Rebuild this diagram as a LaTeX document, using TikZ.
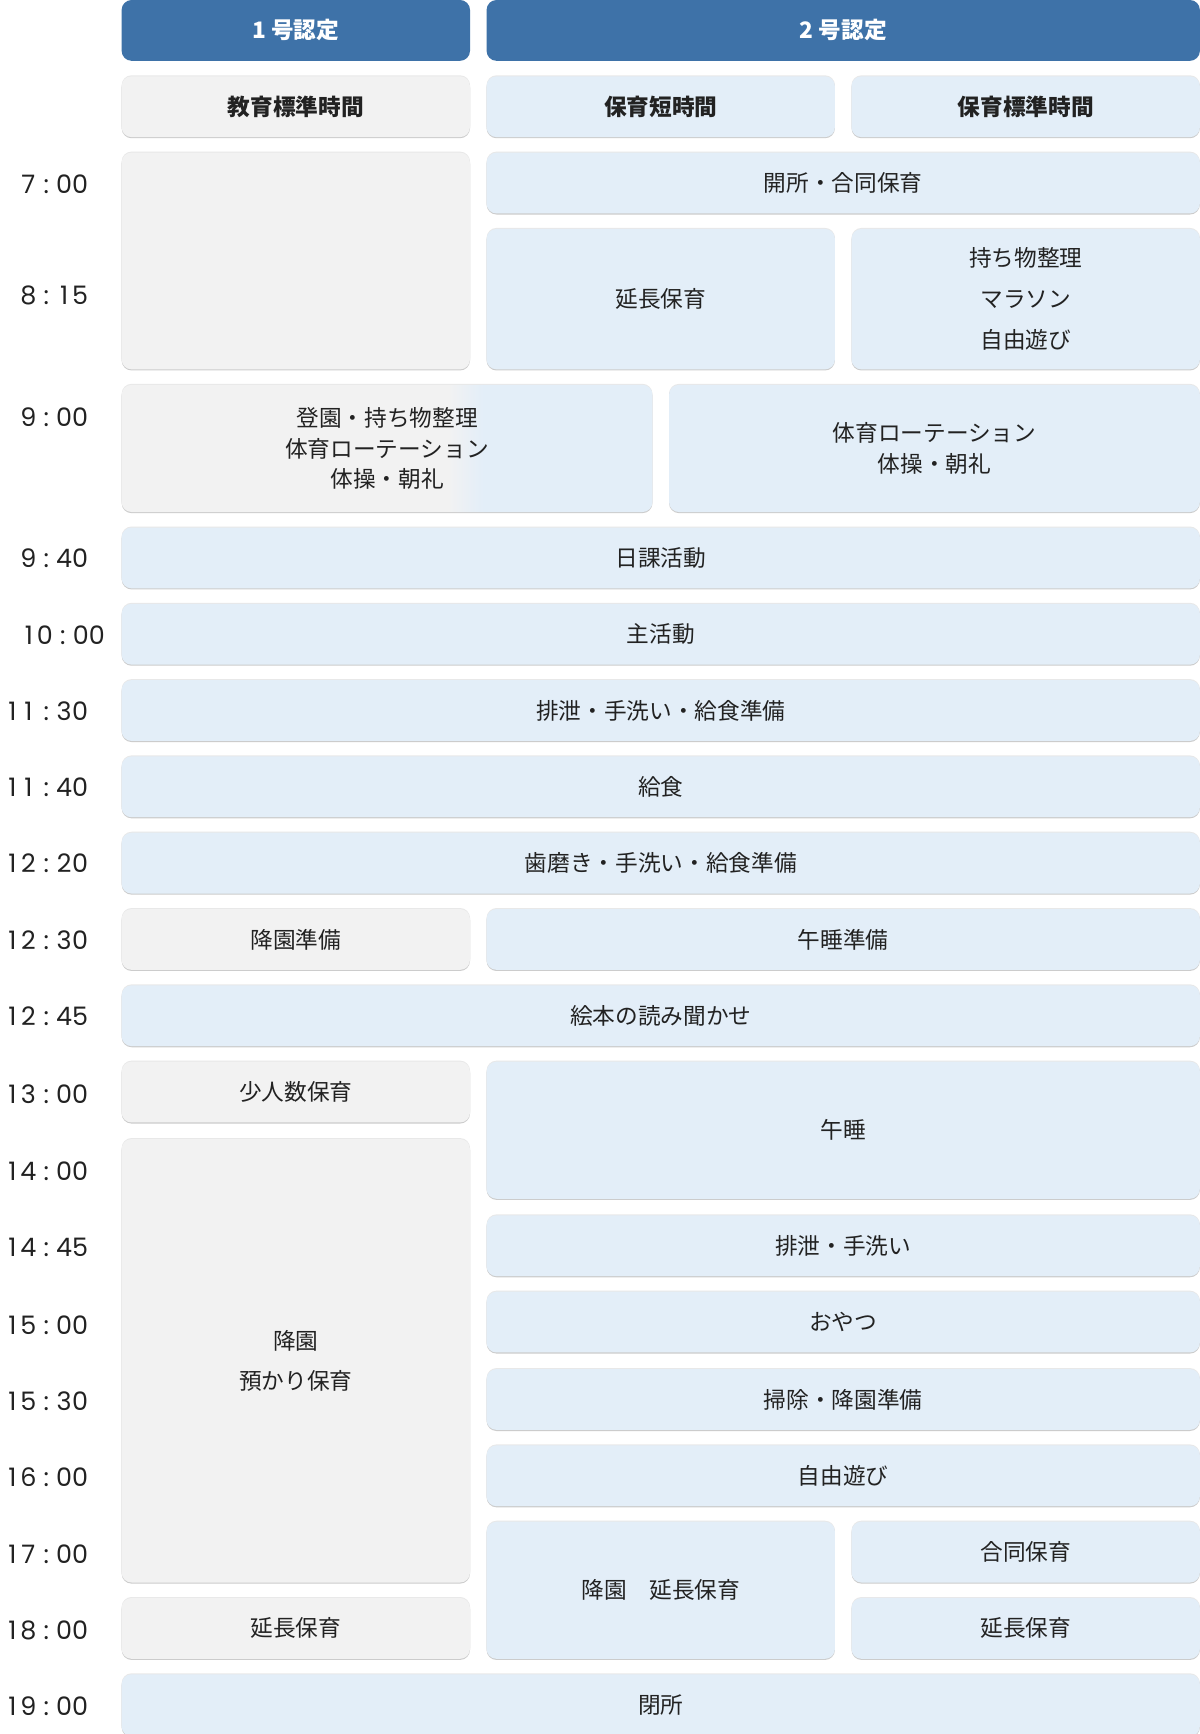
\documentclass[tikz,border=0pt]{standalone}
\usepackage{fontspec}
\newfontfamily\jpfont{Noto Sans CJK JP}
\newfontfamily\popfont{Poppins}
\definecolor{cdark}{HTML}{3E72A8}
\definecolor{cgray}{HTML}{F2F2F2}
\definecolor{cblue}{HTML}{E3EEF8}
\definecolor{txt}{HTML}{222222}
\tikzset{
  cellbase/.style={rounded corners=9pt, inner sep=0pt, align=center, text=txt,
    font=\jpfont\fontsize{20.5}{27}\selectfont},
  graycell/.style={cellbase, fill=cgray},
  bluecell/.style={cellbase, fill=cblue},
  clearcell/.style={cellbase},
  headcell/.style={cellbase, fill=cdark, text=white, font=\jpfont\bfseries\fontsize{20.5}{27}\selectfont},
  subgray/.style={graycell, font=\jpfont\bfseries\fontsize{20.5}{27}\selectfont},
  subblue/.style={bluecell, font=\jpfont\bfseries\fontsize{20.5}{27}\selectfont},
  timelab/.style={anchor=east, inner sep=0pt, text=txt, font=\popfont\fontsize{23}{23}\selectfont},
}
\def\dgs#1{\ifx#1\relax\else\makebox[14.5pt]{#1}\expandafter\dgs\fi}
\newcommand\tm[2]{\dgs#1\relax\hspace{6.5pt}:\hspace{6.5pt}\dgs#2\relax}
% #1 extra, #2 name, #3 style, #4 x1, #5 y1, #6 x2, #7 y2, #8 text
\newcommand\tbox[8][]{%
  \node[#3, minimum width={#6-#4}, minimum height={#7-#5}, #1] (#2) at ({(#4+#6)/2},{(#5+#7)/2}) {#8};}
\newcommand\shbox[8][]{%
  \fill[black!9, rounded corners=9pt] (#4,#5-0.9) rectangle (#6,#7-0.9);
  \fill[black!20, rounded corners=9pt] (#4,#5+1) rectangle (#6,#7+1);
  \tbox[#1]{#2}{#3}{#4}{#5}{#6}{#7}{#8}}
\begin{document}
\begin{tikzpicture}[x=1pt,y=-1pt]
\fill[white] (0,0) rectangle (1085,1568);
\useasboundingbox (0,0) rectangle (1085,1568);

% headers
\tbox{h1}{headcell}{110}{0}{425}{55}{1 号認定}
\tbox{h2}{headcell}{440}{0}{1085}{55}{2 号認定}
\shbox{s1}{subgray}{110}{69}{425}{124}{教育標準時間}
\shbox{s2}{subblue}{440}{69}{755}{124}{保育短時間}
\shbox{s3}{subblue}{770}{69}{1085}{124}{保育標準時間}

% 7:00 - 8:15
\shbox{a1}{graycell}{110}{138}{425}{334}{}
\shbox{b1}{bluecell}{440}{138}{1085}{193}{開所・合同保育}
\shbox{b2}{bluecell}{440}{207}{755}{334}{延長保育}
\shbox[font=\jpfont\fontsize{20.5}{37}\selectfont]{c2}{bluecell}{770}{207}{1085}{334}{持ち物整理\\マラソン\\自由遊び}

% 9:00 gradient box
\fill[black!9, rounded corners=9pt] (110,348-0.9) rectangle (590,463-0.9);
\fill[black!20, rounded corners=9pt] (110,348+1) rectangle (590,463+1);
\begin{scope}
  \clip[rounded corners=9pt] (110,348) rectangle (590,463);
  \fill[cgray] (109,347) rectangle (405,464);
  \shade[left color=cgray, right color=cblue] (405,347) rectangle (437,464);
  \fill[cblue] (437,347) rectangle (591,464);
\end{scope}
\tbox[font=\jpfont\fontsize{20.5}{27.5}\selectfont]{g900}{clearcell}{110}{348}{590}{463}{登園・持ち物整理\\体育ローテーション\\体操・朝礼}
\shbox[font=\jpfont\fontsize{20.5}{27.5}\selectfont]{b900}{bluecell}{605}{348}{1085}{463}{体育ローテーション\\体操・朝礼}

% full rows
\shbox{r940}{bluecell}{110}{477}{1085}{532}{日課活動}
\shbox{r1000}{bluecell}{110}{546}{1085}{601}{主活動}
\shbox{r1130}{bluecell}{110}{615}{1085}{670}{排泄・手洗い・給食準備}
\shbox{r1140}{bluecell}{110}{684}{1085}{739}{給食}
\shbox{r1220}{bluecell}{110}{753}{1085}{808}{歯磨き・手洗い・給食準備}
\shbox{a1230}{graycell}{110}{822}{425}{877}{降園準備}
\shbox{b1230}{bluecell}{440}{822}{1085}{877}{午睡準備}
\shbox{r1245}{bluecell}{110}{891}{1085}{946}{絵本の読み聞かせ}

% afternoon
\shbox{a1300}{graycell}{110}{960}{425}{1015}{少人数保育}
\shbox{b1300}{bluecell}{440}{960}{1085}{1084}{午睡}
\shbox[font=\jpfont\fontsize{20.5}{36}\selectfont]{a1400}{graycell}{110}{1030}{425}{1431}{降園\\預かり保育}
\shbox{b1445}{bluecell}{440}{1099}{1085}{1154}{排泄・手洗い}
\shbox{b1500}{bluecell}{440}{1168}{1085}{1223}{おやつ}
\shbox{b1530}{bluecell}{440}{1238}{1085}{1293}{掃除・降園準備}
\shbox{b1600}{bluecell}{440}{1307}{1085}{1362}{自由遊び}
\shbox{b1700}{bluecell}{440}{1376}{755}{1500}{降園　延長保育}
\shbox{c1700}{bluecell}{770}{1376}{1085}{1431}{合同保育}
\shbox{a1800}{graycell}{110}{1445}{425}{1500}{延長保育}
\shbox{c1800}{bluecell}{770}{1445}{1085}{1500}{延長保育}
\shbox{r1900}{bluecell}{110}{1514}{1085}{1570}{閉所}

% time labels
\node[timelab] (t700)  at (80,167)  {\tm{7}{00}};
\node[timelab] (t815)  at (80,267)  {\tm{8}{15}};
\node[timelab] (t900)  at (80,377)  {\tm{9}{00}};
\node[timelab] (t940)  at (80,505)  {\tm{9}{40}};
\node[timelab] (t1000) at (95,574)  {\tm{10}{00}};
\node[timelab] (t1130) at (80,643)  {\tm{11}{30}};
\node[timelab] (t1140) at (80,712)  {\tm{11}{40}};
\node[timelab] (t1220) at (80,781)  {\tm{12}{20}};
\node[timelab] (t1230) at (80,850)  {\tm{12}{30}};
\node[timelab] (t1245) at (80,919)  {\tm{12}{45}};
\node[timelab] (t1300) at (80,989)  {\tm{13}{00}};
\node[timelab] (t1400) at (80,1059) {\tm{14}{00}};
\node[timelab] (t1445) at (80,1128) {\tm{14}{45}};
\node[timelab] (t1500) at (80,1198) {\tm{15}{00}};
\node[timelab] (t1530) at (80,1267) {\tm{15}{30}};
\node[timelab] (t1600) at (80,1336) {\tm{16}{00}};
\node[timelab] (t1700) at (80,1405) {\tm{17}{00}};
\node[timelab] (t1800) at (80,1474) {\tm{18}{00}};
\node[timelab] (t1900) at (80,1543) {\tm{19}{00}};
\end{tikzpicture}
\end{document}
